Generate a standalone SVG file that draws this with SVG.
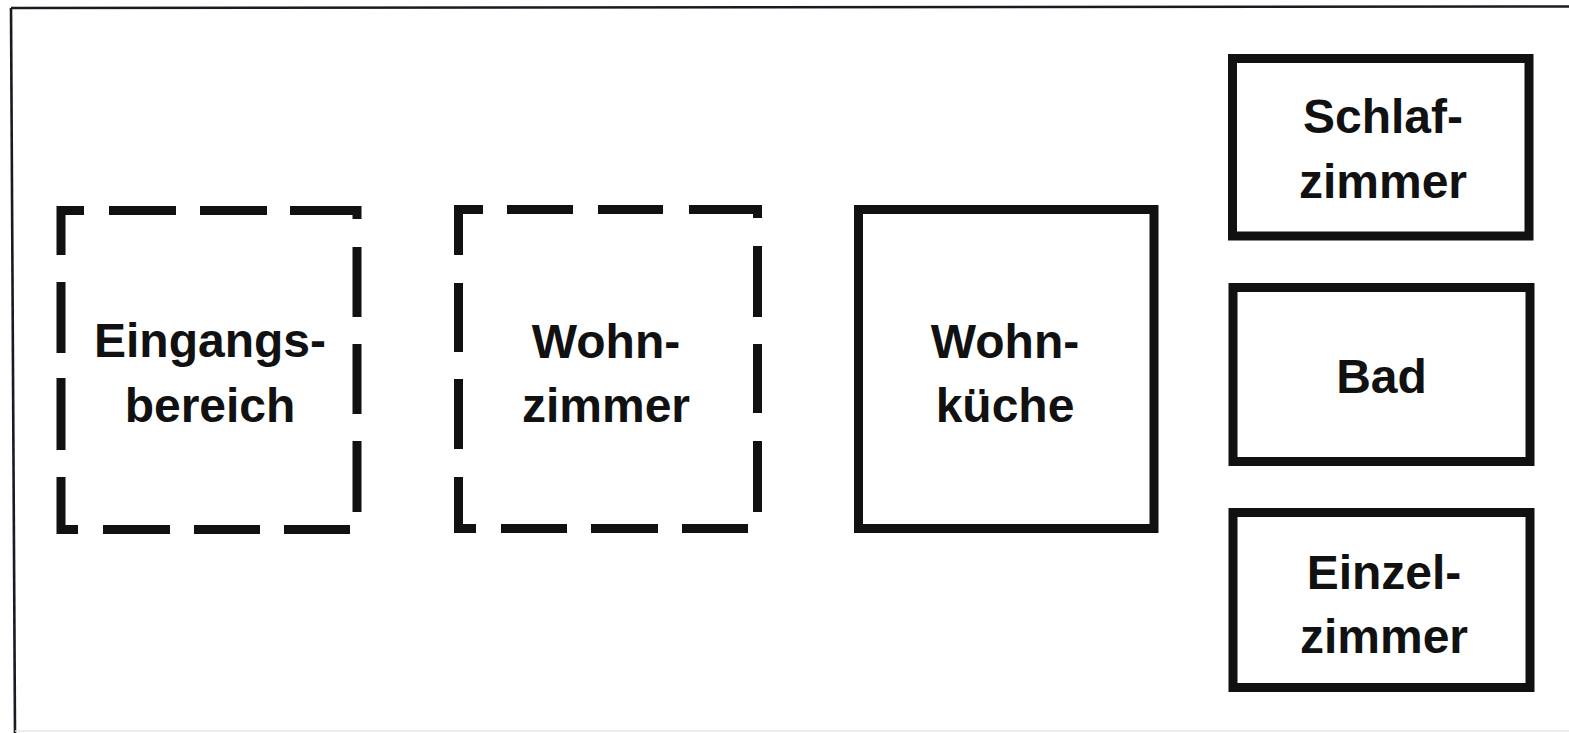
<svg xmlns="http://www.w3.org/2000/svg" width="1569" height="733" viewBox="0 0 1569 733">
  <style>
    .frame { fill: none; stroke: #1a1a22; stroke-width: 2.6; }
    .box { fill: none; stroke: #111; stroke-width: 9; stroke-linejoin: miter; stroke-linecap: butt; }
    .label { font-family: "Liberation Sans", Arial, sans-serif; font-weight: bold; font-size: 48px; fill: #111; text-anchor: middle; }
  </style>
  <rect width="1569" height="733" fill="#ffffff"/>

  <!-- outer frame: top and left edges -->
  <path class="frame" d="M11,8 L1569,6.5"/>
  <path class="frame" d="M11,8 L15,733"/>
  <path d="M15,731 L1569,731" stroke="#e6e6ea" stroke-width="1.5" fill="none"/>

  <!-- dashed: planned area -->
  <g id="eingangsbereich">
    <path class="box" d="M61,255 V210.5 H84 M109,210.5 H176 M200,210.5 H267 M290,210.5 H357 V219
                         M357,247 V317 M357,344 V414 M357,441 V512
                         M61,282 V353 M61,378 V450 M61,477 V529.5 H78
                         M103,529.5 H170 M194,529.5 H260 M284,529.5 H350"/>
    <text class="label" x="210" y="357">Eingangs-</text>
    <text class="label" x="210" y="422">bereich</text>
  </g>

  <g id="wohnzimmer">
    <path class="box" d="M458.5,255 V209.5 H483 M507,209.5 H573 M598,209.5 H663 M689,209.5 H757.5 V218
                         M757.5,246 V317 M757.5,344 V413 M757.5,441 V512
                         M458.5,283 V352 M458.5,379 V449 M458.5,477 V528.5 H476
                         M501,528.5 H567 M591,528.5 H658 M682,528.5 H748"/>
    <text class="label" x="606" y="358">Wohn-</text>
    <text class="label" x="606" y="422">zimmer</text>
  </g>

  <!-- solid: existing rooms -->
  <g id="wohnkueche">
    <rect class="box" x="858.5" y="209.5" width="295.5" height="319"/>
    <text class="label" x="1005" y="358">Wohn-</text>
    <text class="label" x="1005" y="422">küche</text>
  </g>

  <g id="schlafzimmer">
    <rect class="box" x="1232.5" y="58.5" width="296.5" height="177.5"/>
    <text class="label" x="1383" y="133">Schlaf-</text>
    <text class="label" x="1383" y="198">zimmer</text>
  </g>

  <g id="bad">
    <rect class="box" x="1233" y="287.5" width="297" height="174"/>
    <text class="label" x="1381.5" y="393">Bad</text>
  </g>

  <g id="einzelzimmer">
    <rect class="box" x="1233" y="512.5" width="297" height="175"/>
    <text class="label" x="1384" y="589">Einzel-</text>
    <text class="label" x="1384" y="653">zimmer</text>
  </g>

  <g id="connectors"/>
</svg>
